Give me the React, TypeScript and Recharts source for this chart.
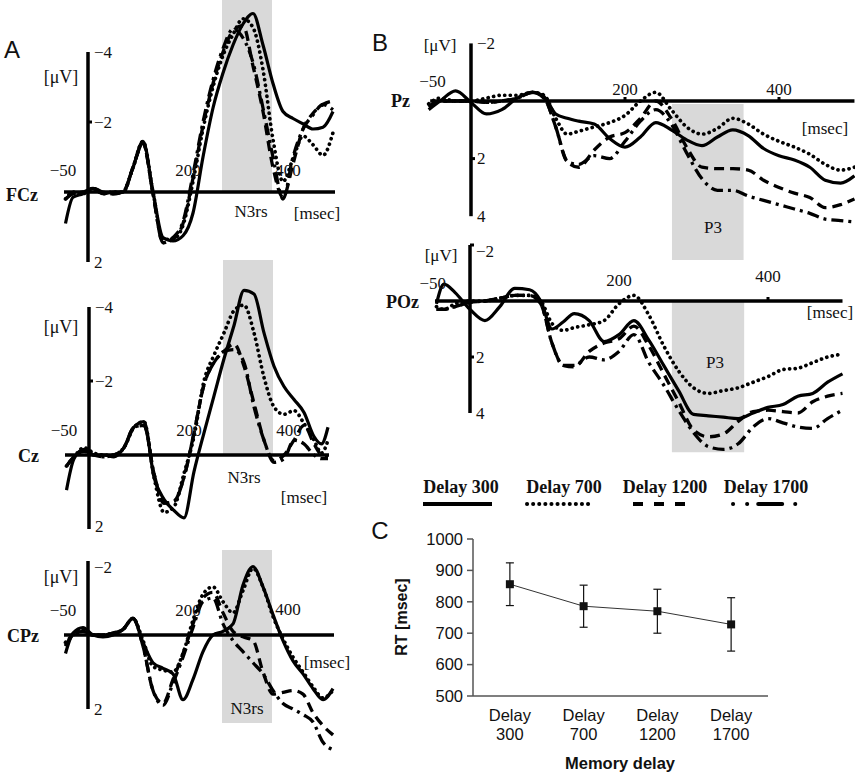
import React from 'react';
import {
  LineChart,
  Line,
  XAxis,
  YAxis,
  ReferenceLine,
  ReferenceArea,
  ReferenceDot,
  ErrorBar,
} from 'recharts';

const SERIF = "'Liberation Serif', 'Times New Roman', serif";
const SANS = "'Liberation Sans', Arial, Helvetica, sans-serif";

// ---------------- Panel A data (time in ms, amplitude in µV; negative up) ----------------
const T_A = [-45, -30, -10, 10, 30, 50, 70, 90, 110, 130, 150, 170, 190, 210, 230, 250, 270, 290, 310, 330, 350, 370, 390, 410, 430, 450, 470, 490];
const T_CZ = [-45, -30, -10, 10, 30, 50, 70, 90, 110, 130, 150, 170, 190, 210, 230, 250, 270, 290, 310, 330, 350, 370, 390, 410, 430, 450, 465, 478];

const FCZ_300 = [0.9, 0.15, 0.05, -0.1, 0.05, 0.0, 0.0, -0.7, -1.45, 0.0, 1.3, 1.4, 1.25, 0.6, -1.0, -2.4, -3.4, -4.2, -4.8, -5.1, -4.2, -3.1, -2.3, -2.1, -1.95, -1.8, -1.85, -2.3];
const FCZ_700 = [0.2, 0.0, 0.05, -0.1, 0.05, 0.0, 0.0, -0.7, -1.45, 0.0, 1.35, 1.35, 0.95, -0.3, -1.8, -3.0, -3.9, -4.5, -4.95, -4.7, -3.5, -1.5, -0.3, -0.95, -1.6, -1.35, -1.05, -1.7];
const FCZ_1200 = [0.2, 0.05, 0.0, -0.1, 0.0, 0.05, 0.0, -0.7, -1.4, 0.05, 1.45, 1.35, 0.9, -0.4, -1.9, -3.1, -4.0, -4.6, -4.75, -3.6, -2.3, -0.7, 0.15, -0.8, -1.8, -2.25, -2.5, -2.6];
const FCZ_1700 = [0.2, 0.05, 0.0, -0.1, 0.0, 0.05, 0.0, -0.7, -1.4, 0.05, 1.45, 1.3, 0.85, -0.5, -2.0, -3.2, -4.1, -4.65, -4.4, -3.7, -2.4, -1.0, 0.2, -1.0, -1.8, -2.2, -2.5, -2.35];

const CZ_300 = [0.95, 0.1, -0.15, 0.0, 0.0, 0.05, -0.2, -0.75, -0.9, 0.6, 1.2, 1.5, 1.7, 0.45, -0.6, -1.6, -2.6, -3.5, -4.45, -4.35, -3.3, -2.4, -1.85, -1.5, -1.15, -0.5, -0.3, -0.75];
const CZ_700 = [0.3, 0.05, -0.2, -0.05, 0.0, 0.0, -0.2, -0.75, -0.9, 0.6, 1.55, 1.4, 0.5, -0.5, -2.0, -2.7, -3.3, -3.9, -4.05, -3.3, -2.1, -1.3, -1.1, -1.2, -0.85, -0.4, -0.05, -0.4];
const CZ_1200 = [0.3, 0.05, -0.1, 0.0, 0.05, 0.0, -0.2, -0.75, -0.8, 0.5, 1.3, 1.25, 0.6, -0.6, -1.9, -2.5, -2.8, -3.0, -2.4, -1.4, -0.4, 0.15, 0.0, -0.4, -0.8, -0.3, 0.0, 0.05];
const CZ_1700 = [0.3, 0.05, -0.1, 0.0, 0.05, 0.0, -0.2, -0.75, -0.8, 0.5, 1.3, 1.25, 0.6, -0.6, -1.9, -2.5, -2.8, -2.85, -2.5, -1.3, -0.4, 0.2, 0.1, -0.4, -0.3, 0.0, 0.1, 0.1];

const CPZ_300 = [0.5, -0.05, -0.2, 0.0, 0.05, 0.0, -0.15, -0.45, 0.2, 0.75, 0.9, 1.05, 1.75, 1.2, 0.45, 0.0, -0.1, -0.3, -1.35, -1.85, -1.3, -0.55, 0.15, 0.7, 1.05, 1.45, 1.75, 1.45];
const CPZ_700 = [0.2, 0.0, -0.15, 0.0, 0.0, -0.05, -0.15, -0.45, 0.15, 0.85, 0.95, 1.0, 0.5, -0.4, -1.1, -1.3, -0.9, -0.6, -1.2, -1.8, -1.3, -0.5, 0.1, 0.6, 1.0, 1.4, 1.7, 1.5];
const CPZ_1200 = [0.3, 0.0, -0.1, 0.0, 0.0, -0.05, -0.15, -0.45, 0.3, 1.5, 1.85, 1.2, 0.5, -0.3, -1.0, -1.15, -0.6, -0.1, 0.05, 0.15, 1.0, 1.6, 1.55, 1.5, 1.6, 2.1, 2.45, 2.7];
const CPZ_1700 = [0.3, 0.0, -0.1, 0.0, 0.0, -0.05, -0.15, -0.45, 0.3, 1.5, 1.9, 1.3, 0.6, -0.2, -0.9, -1.0, -0.3, 0.15, 0.45, 0.75, 1.05, 1.5, 1.85, 2.0, 2.15, 2.35, 2.9, 3.1];

// ---------------- Panel B data ----------------
const T_PZ = [-55, -40, -20, 0, 20, 40, 60, 80, 95, 110, 125, 140, 160, 180, 200, 220, 240, 260, 280, 300, 320, 340, 360, 380, 400, 420, 440, 460, 480, 498];
const PZ_300 = [0.3, 0.0, -0.35, 0.05, 0.45, 0.3, -0.1, -0.3, -0.15, 0.45, 0.6, 0.7, 0.8, 1.3, 1.6, 1.25, 0.75, 1.0, 1.35, 1.55, 1.25, 1.0, 1.2, 1.65, 1.9, 2.05, 2.3, 2.75, 2.85, 2.6];
const PZ_700 = [0.1, -0.1, 0.0, 0.0, -0.1, -0.2, -0.2, -0.3, -0.2, 0.6, 1.15, 1.05, 0.9, 0.75, 0.5, 0.0, -0.3, 0.3, 0.9, 1.15, 0.95, 0.6, 0.8, 1.15, 1.4, 1.6, 1.85, 2.2, 2.4, 2.3];
const PZ_1200 = [0.2, 0.0, 0.0, 0.0, 0.05, 0.0, -0.1, -0.3, -0.1, 0.9, 2.1, 2.3, 1.7, 1.25, 1.1, 0.6, 0.0, 0.6, 1.6, 2.3, 2.35, 2.35, 2.4, 2.75, 3.0, 3.2, 3.35, 3.7, 3.6, 3.4];
const PZ_1700 = [0.2, 0.0, 0.0, 0.0, 0.05, 0.0, -0.1, -0.3, -0.1, 0.9, 2.1, 2.2, 1.9, 2.0, 1.4, 0.7, 0.3, 0.8, 1.8, 2.7, 3.1, 3.1, 3.3, 3.45, 3.6, 3.75, 3.9, 4.1, 4.15, 4.2];

const T_POZ = [-45, -35, -20, 0, 20, 40, 60, 80, 95, 110, 125, 140, 160, 180, 200, 220, 240, 260, 280, 300, 320, 340, 360, 380, 400, 420, 440, 460, 480, 500];
const POZ_300 = [0.1, -0.6, -0.3, 0.3, 0.7, 0.2, -0.45, -0.4, 0.0, 1.0, 0.75, 0.45, 0.7, 1.45, 1.2, 0.7, 1.4, 2.3, 3.2, 4.05, 4.1, 4.15, 4.2, 4.0, 3.8, 3.7, 3.4, 3.3, 2.9, 2.6];
const POZ_700 = [0.2, 0.3, 0.1, 0.0, 0.0, -0.1, -0.2, -0.2, 0.0, 0.8, 1.05, 0.95, 0.85, 0.7, 0.1, -0.2, 0.5, 1.6, 2.5, 3.1, 3.3, 3.2, 3.1, 2.9, 2.7, 2.45, 2.4, 2.2, 2.0, 1.9];
const POZ_1200 = [0.3, 0.3, 0.2, 0.05, 0.0, -0.1, -0.2, -0.2, 0.1, 1.5, 2.3, 2.35, 1.8, 1.5, 1.35, 0.9, 1.6, 2.6, 3.6, 4.6, 4.85, 4.75, 4.3, 3.95, 3.9, 3.95, 4.0, 3.6, 3.4, 3.3];
const POZ_1700 = [0.3, 0.3, 0.2, 0.05, 0.0, -0.1, -0.2, -0.2, 0.1, 1.5, 2.3, 2.3, 2.0, 2.1, 1.8, 1.2, 2.2, 3.0, 3.9, 4.7, 5.2, 5.3, 5.1, 4.5, 4.2, 4.35, 4.5, 4.55, 4.2, 3.9];

// windows (ms)
const N3RS_WINDOW = [268, 368];
const P3_WINDOW_PZ = [261, 354];
const P3_WINDOW_POZ = [271, 368];

// ---------------- Panel C data ----------------
const DELAYS = ['300', '700', '1200', '1700'];
const RT_MEAN = [856, 786, 770, 728];
const RT_ERR = [68, 67, 70, 85];
const RT_TICKS = [500, 600, 700, 800, 900, 1000];

const LEGEND_LABELS = ['Delay 300', 'Delay 700', 'Delay 1200', 'Delay 1700'];

// ---------------- styles ----------------
const SERIES: { key: string; style: any }[] = [
  { key: 's1700', style: { strokeWidth: 3.3, strokeDasharray: '12 5 3 5' } },
  { key: 's1200', style: { strokeWidth: 3.3, strokeDasharray: '10 6' } },
  { key: 's700', style: { strokeWidth: 3.7, strokeDasharray: '0.1 5.5', strokeLinecap: 'round' } },
  { key: 's300', style: { strokeWidth: 3.2 } },
];

function rows(t: number[], a: number[], b: number[], c: number[], d: number[]) {
  return t.map((tt, i) => ({ t: tt, s300: a[i], s700: b[i], s1200: c[i], s1700: d[i] }));
}

const tickText = (label: string, dx: number, dy: number, anchor: string) => (p: any) => (
  <text
    x={p.cx + dx}
    y={p.cy + dy}
    textAnchor={anchor}
    dominantBaseline="central"
    fontFamily={SERIF}
    fontSize={17}
    fill="#111"
  >
    {label}
  </text>
);

const tickMarkY = (p: any) => <rect x={p.cx} y={p.cy - 1.5} width={4} height={3} fill="#000" />;
const tickMarkX = (p: any) => <rect x={p.cx - 1.5} y={p.cy - 4} width={3} height={4} fill="#000" />;

type Panel = {
  left: number;
  top: number;
  width: number;
  height: number;
  axisX: number;
  kx: number;
  baseY: number;
  ky: number;
  data: any[];
  axisRange: [number, number];
  baseRange: [number, number];
  area: { x1: number; x2: number; y1: number; y2: number };
  yTicks: { v: number; l: string; dy?: number }[];
  yMarks: number[];
  xTicks: { v: number; l: string; dy: number }[];
  xMarks: number[];
};

function ErpPanel(p: Panel) {
  const x0 = p.axisX - p.left;
  const y0 = p.baseY - p.top;
  const xd: [number, number] = [-x0 / p.kx, (p.width - x0) / p.kx];
  const yd: [number, number] = [-y0 / p.ky, (p.height - y0) / p.ky];
  return (
    <div style={{ position: 'absolute', left: p.left, top: p.top }}>
      <LineChart width={p.width} height={p.height} data={p.data} margin={{ top: 0, right: 0, bottom: 0, left: 0 }}>
        <XAxis dataKey="t" type="number" domain={xd} hide allowDataOverflow />
        <YAxis type="number" domain={yd} reversed hide allowDataOverflow />
        <ReferenceArea
          x1={p.area.x1}
          x2={p.area.x2}
          y1={p.area.y1}
          y2={p.area.y2}
          fill="#d9d9d9"
          fillOpacity={1}
          stroke="none"
          ifOverflow="visible"
        />
        <ReferenceLine
          segment={[{ x: 0, y: p.axisRange[0] }, { x: 0, y: p.axisRange[1] }]}
          stroke="#000"
          strokeWidth={3.5}
          ifOverflow="visible"
        />
        <ReferenceLine
          segment={[{ x: p.baseRange[0], y: 0 }, { x: p.baseRange[1], y: 0 }]}
          stroke="#000"
          strokeWidth={3.5}
          ifOverflow="visible"
        />
        {p.yMarks.map((v) => (
          <ReferenceDot key={'ym' + v} x={0} y={v} r={2} shape={tickMarkY} ifOverflow="visible" />
        ))}
        {p.xMarks.map((v) => (
          <ReferenceDot key={'xm' + v} x={v} y={0} r={2} shape={tickMarkX} ifOverflow="visible" />
        ))}
        {p.yTicks.map((tk) => (
          <ReferenceDot
            key={'yt' + tk.v}
            x={0}
            y={tk.v}
            r={1}
            shape={tickText(tk.l, 6, tk.dy || 0, 'start')}
            ifOverflow="visible"
          />
        ))}
        {p.xTicks.map((tk) => (
          <ReferenceDot
            key={'xt' + tk.v}
            x={tk.v}
            y={0}
            r={1}
            shape={tickText(tk.l, 0, tk.dy, 'middle')}
            ifOverflow="visible"
          />
        ))}
        {SERIES.map((s) => (
          <Line
            key={s.key}
            dataKey={s.key}
            type="monotone"
            stroke="#000"
            {...s.style}
            dot={false}
            activeDot={false}
            isAnimationActive={false}
          />
        ))}
      </LineChart>
    </div>
  );
}

function Txt({
  x,
  y,
  children,
  size = 17,
  bold = false,
  family = SERIF,
  anchor = 'middle',
  rotate = 0,
}: any) {
  const tx = anchor === 'middle' ? '-50%' : anchor === 'end' ? '-100%' : '0';
  return (
    <div
      style={{
        position: 'absolute',
        left: x,
        top: y,
        transform: `translate(${tx},-50%)` + (rotate ? ` rotate(${rotate}deg)` : ''),
        transformOrigin: 'center',
        fontFamily: family,
        fontSize: size,
        fontWeight: bold ? 700 : 400,
        whiteSpace: 'nowrap',
        lineHeight: 1,
        color: '#111',
      }}
    >
      {children}
    </div>
  );
}

const yTicksA = [
  { v: -4, l: '−4' },
  { v: -2, l: '−2' },
  { v: 2, l: '2' },
];

const CatTick = (p: any) => {
  const i = Math.floor(p.payload.value);
  return (
    <g>
      <text x={p.x} y={p.y + 13} textAnchor="middle" dominantBaseline="central" fontFamily={SANS} fontSize={16.5} fill="#111">
        Delay
      </text>
      <text x={p.x} y={p.y + 32} textAnchor="middle" dominantBaseline="central" fontFamily={SANS} fontSize={16.5} fill="#111">
        {DELAYS[i]}
      </text>
    </g>
  );
};

const SquareDot = (p: any) => (
  <rect key={'sq' + p.index} x={p.cx - 4} y={p.cy - 4} width={8} height={8} fill="#111" />
);

function RtPanel() {
  const data = DELAYS.map((d, i) => ({ pos: i + 0.5, rt: RT_MEAN[i], err: RT_ERR[i] }));
  return (
    <div style={{ position: 'absolute', left: 380, top: 520 }}>
      <LineChart width={420} height={252} data={data} margin={{ top: 19, right: 32, bottom: 0, left: 0 }}>
        <XAxis
          xAxisId="b"
          dataKey="pos"
          type="number"
          domain={[0, 4]}
          ticks={[0, 1, 2, 3, 4]}
          tick={false}
          tickSize={6}
          height={6}
          stroke="#555"
          strokeWidth={1.5}
          interval={0}
        />
        <XAxis
          xAxisId="lab"
          dataKey="pos"
          type="number"
          domain={[0, 4]}
          ticks={[0.5, 1.5, 2.5, 3.5]}
          axisLine={false}
          tickLine={false}
          tickSize={0}
          tickMargin={0}
          height={70}
          tick={<CatTick />}
          interval={0}
        />
        <YAxis
          type="number"
          domain={[500, 1000]}
          ticks={RT_TICKS}
          width={93}
          tickSize={6}
          tickMargin={4}
          stroke="#555"
          strokeWidth={1.5}
          interval={0}
          tick={{ fontFamily: SANS, fontSize: 16.5, fill: '#111' }}
        />
        <Line
          xAxisId="b"
          dataKey="rt"
          stroke="#333"
          strokeWidth={1}
          dot={SquareDot}
          activeDot={false}
          isAnimationActive={false}
        >
          <ErrorBar dataKey="err" width={4} stroke="#111" strokeWidth={1.2} direction="y" />
        </Line>
      </LineChart>
    </div>
  );
}

function LegendBox() {
  const y = 34;
  return (
    <svg width={440} height={50} style={{ position: 'absolute', left: 400, top: 470 }}>
      <line x1={23} x2={92} y1={y} y2={y} stroke="#000" strokeWidth={4} />
      <line x1={127} x2={192} y1={y} y2={y} stroke="#000" strokeWidth={4} strokeDasharray="0.1 6" strokeLinecap="round" />
      <line x1={233} x2={293} y1={y} y2={y} stroke="#000" strokeWidth={4} strokeDasharray="10 11" />
      <line
        x1={333}
        x2={397}
        y1={y}
        y2={y}
        stroke="#000"
        strokeWidth={4}
        strokeDasharray="0.1 14 0.1 11 24 13 0.1 50"
        strokeLinecap="round"
      />
    </svg>
  );
}

export default function App() {
  return (
    <div
      style={{
        position: 'absolute',
        left: 0,
        top: 0,
        width: 855,
        height: 772,
        background: '#fff',
        overflow: 'hidden',
      }}
    >
      {/* ---------- Panel A ---------- */}
      <ErpPanel
        left={0}
        top={0}
        width={350}
        height={272}
        axisX={88}
        kx={0.5}
        baseY={192}
        ky={35}
        data={rows(T_A, FCZ_300, FCZ_700, FCZ_1200, FCZ_1700)}
        axisRange={[-4, 2]}
        baseRange={[-48, 494]}
        area={{ x1: N3RS_WINDOW[0], x2: N3RS_WINDOW[1], y1: -5.5, y2: 0 }}
        yTicks={yTicksA}
        yMarks={[-2]}
        xTicks={[
          { v: -50, l: '−50', dy: -22 },
          { v: 200, l: '200', dy: -22 },
          { v: 400, l: '400', dy: -22 },
        ]}
        xMarks={[]}
      />
      <ErpPanel
        left={0}
        top={250}
        width={350}
        height={300}
        axisX={89}
        kx={0.5}
        baseY={455}
        ky={37}
        data={rows(T_CZ, CZ_300, CZ_700, CZ_1200, CZ_1700)}
        axisRange={[-4, 2]}
        baseRange={[-48, 480]}
        area={{ x1: N3RS_WINDOW[0], x2: N3RS_WINDOW[1], y1: -5.27, y2: 0 }}
        yTicks={[
          { v: -4, l: '−4' },
          { v: -2, l: '−2' },
          { v: 2, l: '2', dy: -3 },
        ]}
        yMarks={[-2]}
        xTicks={[
          { v: -50, l: '−50', dy: -25 },
          { v: 200, l: '200', dy: -25 },
          { v: 400, l: '400', dy: -25 },
        ]}
        xMarks={[]}
      />
      <ErpPanel
        left={0}
        top={520}
        width={350}
        height={252}
        axisX={88}
        kx={0.5}
        baseY={635}
        ky={37}
        data={rows(T_A, CPZ_300, CPZ_700, CPZ_1200, CPZ_1700)}
        axisRange={[-2, 2]}
        baseRange={[-48, 492]}
        area={{ x1: N3RS_WINDOW[0], x2: N3RS_WINDOW[1], y1: -2.3, y2: 2.38 }}
        yTicks={[
          { v: -2, l: '−2', dy: 6 },
          { v: 2, l: '2' },
        ]}
        yMarks={[]}
        xTicks={[
          { v: -50, l: '−50', dy: -25 },
          { v: 200, l: '200', dy: -25 },
          { v: 400, l: '400', dy: -26 },
        ]}
        xMarks={[]}
      />

      {/* ---------- Panel B ---------- */}
      <ErpPanel
        left={380}
        top={0}
        width={475}
        height={270}
        axisX={471}
        kx={0.77}
        baseY={101}
        ky={28.8}
        data={rows(T_PZ, PZ_300, PZ_700, PZ_1200, PZ_1700)}
        axisRange={[-2, 4]}
        baseRange={[-53, 498]}
        area={{ x1: P3_WINDOW_PZ[0], x2: P3_WINDOW_PZ[1], y1: 0.1, y2: 5.52 }}
        yTicks={[
          { v: -2, l: '−2' },
          { v: 2, l: '2' },
          { v: 4, l: '4' },
        ]}
        yMarks={[2]}
        xTicks={[
          { v: -50, l: '−50', dy: -20 },
          { v: 200, l: '200', dy: -12 },
          { v: 400, l: '400', dy: -12 },
        ]}
        xMarks={[200, 400]}
      />
      <ErpPanel
        left={380}
        top={230}
        width={475}
        height={240}
        axisX={470}
        kx={0.745}
        baseY={301}
        ky={28}
        data={rows(T_POZ, POZ_300, POZ_700, POZ_1200, POZ_1700)}
        axisRange={[-2, 4]}
        baseRange={[-47, 500]}
        area={{ x1: P3_WINDOW_POZ[0], x2: P3_WINDOW_POZ[1], y1: 0, y2: 5.4 }}
        yTicks={[
          { v: -2, l: '−2', dy: 6 },
          { v: 2, l: '2' },
          { v: 4, l: '4' },
        ]}
        yMarks={[-2, 2]}
        xTicks={[
          { v: -50, l: '−50', dy: -18 },
          { v: 200, l: '200', dy: -21 },
          { v: 400, l: '400', dy: -25 },
        ]}
        xMarks={[400]}
      />

      <LegendBox />
      <RtPanel />

      {/* ---------- annotations ---------- */}
      <Txt x={12} y={50} size={24} family={SANS}>A</Txt>
      <Txt x={380} y={43} size={24} family={SANS}>B</Txt>
      <Txt x={380} y={531} size={24} family={SANS}>C</Txt>

      <Txt x={38} y={195} size={18} bold anchor="end">FCz</Txt>
      <Txt x={39} y={456} size={18} bold anchor="end">Cz</Txt>
      <Txt x={39} y={636} size={18} bold anchor="end">CPz</Txt>
      <Txt x={410} y={101} size={18} bold anchor="end">Pz</Txt>
      <Txt x={419} y={302} size={18} bold anchor="end">POz</Txt>

      <Txt x={61} y={77} size={18}>[μV]</Txt>
      <Txt x={61} y={327} size={18}>[μV]</Txt>
      <Txt x={61} y={577} size={18}>[μV]</Txt>
      <Txt x={440} y={45} size={17}>[μV]</Txt>
      <Txt x={441} y={255} size={17}>[μV]</Txt>

      <Txt x={317} y={213} size={17}>[msec]</Txt>
      <Txt x={304} y={497} size={17}>[msec]</Txt>
      <Txt x={327} y={662} size={17}>[msec]</Txt>
      <Txt x={825} y={128} size={17}>[msec]</Txt>
      <Txt x={830} y={312} size={17}>[msec]</Txt>

      <Txt x={251} y={211} size={17}>N3rs</Txt>
      <Txt x={244} y={477} size={17}>N3rs</Txt>
      <Txt x={247} y={708} size={17}>N3rs</Txt>
      <Txt x={713} y={227} size={17}>P3</Txt>
      <Txt x={715} y={362} size={17}>P3</Txt>

      <Txt x={461} y={487} size={18} bold>{LEGEND_LABELS[0]}</Txt>
      <Txt x={564} y={487} size={18} bold>{LEGEND_LABELS[1]}</Txt>
      <Txt x={665} y={487} size={18} bold>{LEGEND_LABELS[2]}</Txt>
      <Txt x={766} y={487} size={18} bold>{LEGEND_LABELS[3]}</Txt>

      <Txt x={402} y={617} size={16} bold family={SANS} rotate={-90}>RT [msec]</Txt>
      <Txt x={620} y={763} size={16.5} bold family={SANS}>Memory delay</Txt>
    </div>
  );
}
